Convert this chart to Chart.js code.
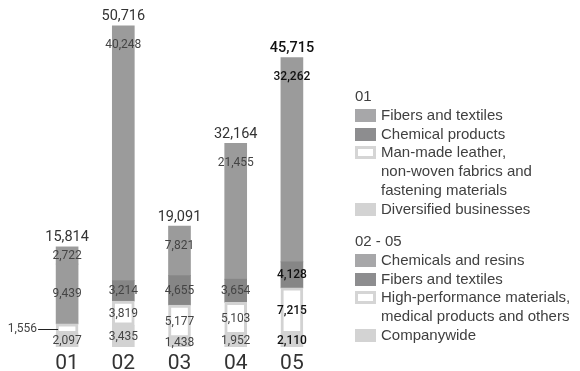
<!DOCTYPE html>
<html>
<head>
<meta charset="utf-8">
<script src="https://cdn.jsdelivr.net/npm/chart.js@4/dist/chart.umd.min.js"></script>
<style>
  html, body { margin: 0; padding: 0; background: #fff; }
  #wrap { position: relative; width: 580px; height: 371px; overflow: hidden; }
  #chart { position: absolute; left: 0; top: 0; }
  .legend { position: absolute; left: 355px; font-family: "Liberation Sans", Arial, sans-serif; font-size: 15px; color: #404040; line-height: 18.8px; }
  .legend .item { position: relative; padding-left: 26px; }
  .legend .sw { position: absolute; left: 0; top: 3px; width: 21px; height: 13px; box-sizing: border-box; }
</style>
</head>
<body>
<div id="wrap">
  <canvas id="chart" width="580" height="380"></canvas>
  <div class="legend" style="top:87px">
    <div class="head">01</div>
    <div class="item"><span class="sw" style="background:#a7a7a9"></span>Fibers and textiles</div>
    <div class="item"><span class="sw" style="background:#8d8d8f"></span>Chemical products</div>
    <div class="item"><span class="sw" style="background:#fff;border:3px solid #d5d5d5"></span>Man-made leather,<br>non-woven fabrics and<br>fastening materials</div>
    <div class="item"><span class="sw" style="background:#d3d3d3"></span>Diversified businesses</div>
  </div>
  <div class="legend" style="top:232px">
    <div class="head">02 - 05</div>
    <div class="item"><span class="sw" style="background:#a7a7a9"></span>Chemicals and resins</div>
    <div class="item"><span class="sw" style="background:#8d8d8f"></span>Fibers and textiles</div>
    <div class="item"><span class="sw" style="background:#fff;border:3px solid #d5d5d5"></span>High-performance materials,<br>medical products and others</div>
    <div class="item"><span class="sw" style="background:#d3d3d3"></span>Companywide</div>
  </div>
</div>
<script>
// Period labels along the bottom
const periods = ['01', '02', '03', '04', '05'];
// Segments, stacked from the bottom up
const baseSegment = [2097, 3435, 1438, 1952, 2110];     // Diversified businesses / Companywide
const lightSegment = [1556, 3819, 5177, 5103, 7215];    // Man-made leather... / High-performance materials...
const darkSegment = [9439, 3214, 4655, 3654, 4128];     // Chemical products / Fibers and textiles
const topSegment = [2722, 40248, 7821, 21455, 32262];   // Fibers and textiles / Chemicals and resins

const totals = periods.map((_, i) => baseSegment[i] + lightSegment[i] + darkSegment[i] + topSegment[i]);
const fmt = v => v.toLocaleString('en-US');

const labelPlugin = {
  id: 'segmentLabels',
  afterDatasetsDraw(chart) {
    const ctx = chart.ctx;
    ctx.save();
    ctx.textAlign = 'center';
    ctx.textBaseline = 'middle';
    chart.data.datasets.forEach((ds, d) => {
      const meta = chart.getDatasetMeta(d);
      meta.data.forEach((bar, i) => {
        const p = bar.getProps(['x', 'y', 'base'], true);
        const top = Math.min(p.y, p.base), bottom = Math.max(p.y, p.base);
        let ly = (top + bottom) / 2;
        if (d === 3) ly = Math.min(ly, top + 19);
        const last = i === periods.length - 1;
        ctx.font = (last ? '500 ' : '') + '12px Roboto';
        ctx.fillStyle = last ? '#111' : '#444';
        const text = fmt(ds.data[i]);
        if (d === 1 && i === 0) {
          // too thin for a label inside: put it on the left with a leader line
          ctx.textAlign = 'right';
          ctx.fillText(text, p.x - 30, ly + 0.5);
          ctx.strokeStyle = '#222';
          ctx.lineWidth = 1;
          ctx.beginPath();
          ctx.moveTo(p.x - 29, Math.round(ly) + 0.5);
          ctx.lineTo(p.x - 9, Math.round(ly) + 0.5);
          ctx.stroke();
          ctx.textAlign = 'center';
        } else {
          ctx.fillText(text, p.x, ly + 0.5);
        }
        if (d === 3) {
          ctx.font = (last ? '500 ' : '') + '14.5px Roboto';
          ctx.fillStyle = last ? '#111' : '#333';
          ctx.fillText(fmt(totals[i]), p.x, top - 9);
        }
      });
    });
    ctx.restore();
  }
};

const ctx = document.getElementById('chart').getContext('2d');
new Chart(ctx, {
  type: 'bar',
  data: {
    labels: periods,
    datasets: [
      { data: baseSegment, backgroundColor: '#d2d2d2', borderWidth: 0 },
      { data: lightSegment, backgroundColor: '#ffffff', borderColor: '#d2d2d2', borderWidth: 3, borderSkipped: false },
      { data: darkSegment, backgroundColor: ['#9b9b9b', '#868686', '#868686', '#868686', '#868686'], borderWidth: 0 },
      { data: topSegment, backgroundColor: '#9b9b9b', borderWidth: 0 }
    ]
  },
  options: {
    responsive: false,
    animation: false,
    devicePixelRatio: 1,
    layout: { padding: { left: 39, right: 260, top: 5, bottom: 0 } },
    plugins: { legend: { display: false }, tooltip: { enabled: false } },
    datasets: { bar: { barThickness: 22 } },
    scales: {
      x: {
        stacked: true,
        grid: { display: false, drawTicks: false },
        border: { display: false },
        ticks: { color: '#333', padding: 6, font: { family: 'Roboto', size: 21, lineHeight: 1 } }
      },
      y: { stacked: true, display: false, min: 0, max: 54000 }
    }
  },
  plugins: [labelPlugin]
});
</script>
</body>
</html>
